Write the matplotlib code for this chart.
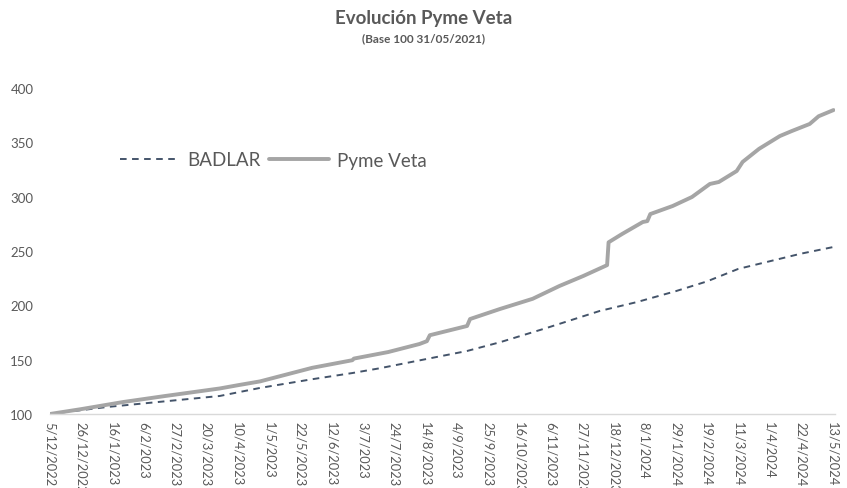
import pandas as pd
import matplotlib
matplotlib.use("Agg")
import matplotlib.pyplot as plt

plt.rcParams['font.family'] = ['Lato', 'DejaVu Sans']

# Pyme Veta (base 100); repeated days mark the jumps
pyme_dates = ['2022-12-05', '2022-12-26', '2023-01-23', '2023-02-20', '2023-03-29',
              '2023-04-11', '2023-04-25', '2023-05-30', '2023-06-26', '2023-06-27',
              '2023-07-20', '2023-08-10', '2023-08-15', '2023-08-17', '2023-09-11',
              '2023-09-13', '2023-10-03', '2023-10-25', '2023-11-12', '2023-11-28',
              '2023-12-14', '2023-12-15', '2023-12-24', '2024-01-07', '2024-01-10',
              '2024-01-12', '2024-01-27', '2024-02-09', '2024-02-21', '2024-02-27',
              '2024-03-10', '2024-03-14', '2024-03-25', '2024-04-08', '2024-04-16',
              '2024-04-28', '2024-05-04', '2024-05-14']
pyme_vals = [100.0, 104.5, 111.0, 116.5, 123.5,
             126.7, 130.0, 142.5, 149.5, 151.0,
             157.0, 164.4, 167.0, 172.5, 181.0,
             187.4, 196.6, 206.0, 217.8, 227.0,
             237.0, 258.0, 265.6, 276.7, 277.5,
             284.0, 291.4, 299.7, 311.7, 313.5,
             323.6, 332.0, 344.0, 355.8, 360.4,
             366.9, 374.0, 379.7]

# BADLAR (base 100)
badlar_dates = ['2022-12-05', '2023-01-12', '2023-03-29', '2023-04-25', '2023-05-30',
                '2023-06-26', '2023-07-14', '2023-09-11', '2023-10-03', '2023-11-03',
                '2023-12-09', '2024-01-03', '2024-01-29', '2024-02-19', '2024-03-11',
                '2024-04-01', '2024-04-22', '2024-05-14']
badlar_vals = [100.0, 106.4, 116.6, 124.0, 132.0,
               137.7, 142.0, 158.0, 166.0, 179.0,
               194.8, 203.0, 213.0, 222.0, 233.5,
               240.5, 247.5, 253.7]

tick_labels = ['5/12/2022', '26/12/2022', '16/1/2023', '6/2/2023', '27/2/2023',
               '20/3/2023', '10/4/2023', '1/5/2023', '22/5/2023', '12/6/2023',
               '3/7/2023', '24/7/2023', '14/8/2023', '4/9/2023', '25/9/2023',
               '16/10/2023', '6/11/2023', '27/11/2023', '18/12/2023', '8/1/2024',
               '29/1/2024', '19/2/2024', '11/3/2024', '1/4/2024', '22/4/2024',
               '13/5/2024']

grey_txt = '#595959'

pd_pyme = pd.to_datetime(pyme_dates)
pd_badlar = pd.to_datetime(badlar_dates)
ticks = pd.to_datetime(tick_labels, format='%d/%m/%Y')

fig = plt.figure(figsize=(8.47, 4.89), dpi=100)
ax = fig.add_axes([50/847, 74/489, 785/847, 326/489])

ax.plot(pd_badlar, badlar_vals, color='#44546A', lw=1.4,
        linestyle=(0, (3.4, 2.8)), label='BADLAR')
ax.plot(pd_pyme, pyme_vals, color='#A5A5A5', lw=2.8,
        solid_joinstyle='round', solid_capstyle='round', label='Pyme Veta')

ax.set_ylim(100, 400)
ax.set_yticks(range(100, 401, 50))
ax.set_xlim(pd.Timestamp('2022-12-05'), pd.Timestamp('2024-05-15'))
ax.set_xticks(ticks)
ax.set_xticklabels(tick_labels, rotation=-90, ha='center', va='top')

for s in ['top', 'right', 'left']:
    ax.spines[s].set_visible(False)
ax.spines['bottom'].set_color('#D9D9D9')
ax.spines['bottom'].set_linewidth(1.0)
ax.tick_params(axis='both', length=0, colors=grey_txt)
ax.tick_params(axis='y', labelsize=9.5, pad=12)
ax.tick_params(axis='x', labelsize=9.3, pad=5)

fig.text(0.5, 0.962, 'Evolución Pyme Veta', ha='center', va='center',
         fontsize=13.5, fontweight='bold', color=grey_txt)
fig.text(0.5, 0.921, '(Base 100 31/05/2021)', ha='center', va='center',
         fontsize=8.5, fontweight='bold', color=grey_txt)

# the reference also clips the longest date labels at the bottom edge
leg = fig.legend(loc='center left', bbox_to_anchor=(103/847, 1 - 161/489), ncol=2,
                 frameon=False, fontsize=13.5, handlelength=3.2, handletextpad=0.4,
                 columnspacing=0.45, labelcolor=grey_txt)

fig.savefig('out.png', dpi=100)
